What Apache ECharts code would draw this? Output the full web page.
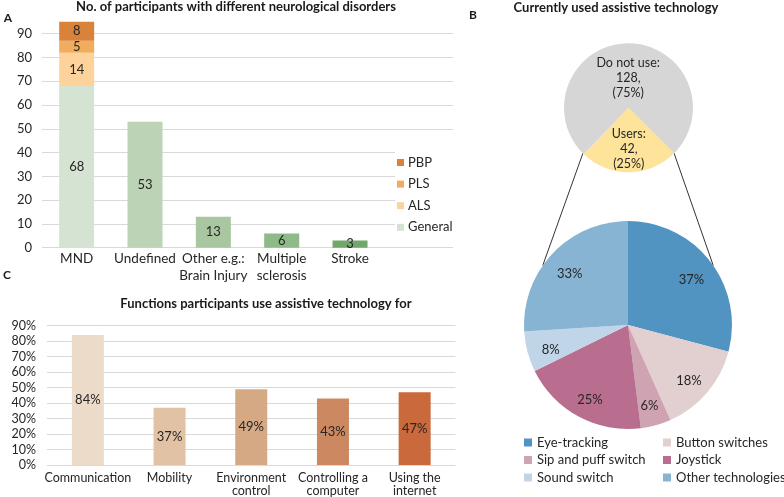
<!DOCTYPE html>
<html><head><meta charset="utf-8">
<script src="https://cdn.jsdelivr.net/npm/echarts@6/dist/echarts.min.js"></script>
<style>html,body{margin:0;padding:0;background:#fff}#c{width:784px;height:497px}</style>
</head><body><div id="c"></div>
<script>
// ---- data ----
const catsA = ['MND', 'Undefined', 'Other e.g.:\nBrain Injury', 'Multiple\nsclerosis', 'Stroke'];
const generalA = [68, 53, 13, 6, 3];
const alsA = [14, null, null, null, null];
const plsA = [5, null, null, null, null];
const pbpA = [8, null, null, null, null];
const legendA = ['PBP', 'PLS', 'ALS', 'General'];

const catsC = ['Communication', 'Mobility', 'Environment\ncontrol', 'Controlling a\ncomputer', 'Using the\ninternet'];
const funcC = [84, 37, 49, 43, 47];

const usageNames = ['Users', 'Do not use'];
const usageVals = [42, 128];
const usagePct = [25, 75];

const techNames = ['Eye-tracking', 'Button switches', 'Sip and puff switch', 'Joystick', 'Sound switch', 'Other technologies'];
const techVals = [37, 18, 6, 25, 8, 33];

// ---- styles ----
const greensA = ['#d5e3d2', '#bcd3b6', '#a8c7a1', '#8dba88', '#70a86b'];
const orangesA = { ALS: '#fdd39b', PLS: '#f0ad5e', PBP: '#d9823a' };
const brownsC = ['#ecdbc9', '#e2c2a5', '#d5a983', '#cc8860', '#c9693c'];
const usageColors = ['#fde49a', '#d6d6d6'];
const techColors = ['#5194c1', '#e2cfd0', '#cfa3b1', '#b96d8f', '#c0d6e8', '#88b4d3'];
const FONT = 'Lato';
const TXT = '#262626';

const topC = [628.5, 107.7], rT = 64.5;
const botC = [628, 325], rB = 104;
function pt(c, r, deg) { const a = deg * Math.PI / 180; return [c[0] + r * Math.sin(a), c[1] - r * Math.cos(a)]; }

const chart = echarts.init(document.getElementById('c'), null, { renderer: 'canvas' });

const labelStyle = { fontFamily: FONT, fontSize: 13, color: TXT };

function seg(name, arr, color) {
  return {
    name, type: 'bar', stack: 'mnd', xAxisIndex: 1, yAxisIndex: 1, barWidth: 35,
    itemStyle: { color }, data: arr,
    label: { show: true, position: 'inside', ...labelStyle, formatter: p => p.value }
  };
}

const L1 = pt(topC, rT, 225), L2 = pt(botC, rB, 305);
const R1 = pt(topC, rT, 135), R2 = pt(botC, rB, 55);

const option = {
  animation: false,
  textStyle: { fontFamily: FONT },
  grid: [
    { left: 42, right: 331, top: 21.8, bottom: 249.3 },
    { left: 42.5, right: 399.8, top: 21.8, bottom: 249.3 },
    { left: 47, right: 328.5, top: 325.7, bottom: 32 }
  ],
  xAxis: [
    { gridIndex: 0, type: 'category', data: [''], show: false },
    { gridIndex: 1, type: 'category', data: catsA,
      axisLine: { show: false }, axisTick: { show: false },
      axisLabel: { fontFamily: FONT, fontSize: 13.5, color: TXT, lineHeight: 17, verticalAlign: 'top', margin: 2, interval: 0 } },
    { gridIndex: 2, type: 'category', data: catsC,
      axisLine: { show: false }, axisTick: { show: false },
      axisLabel: { fontFamily: FONT, fontSize: 12.5, color: TXT, lineHeight: 13, verticalAlign: 'top', margin: 6, interval: 0 } }
  ],
  yAxis: [
    { gridIndex: 0, type: 'value', min: 0, max: 95, interval: 10,
      axisLine: { show: false }, axisTick: { show: false },
      splitLine: { show: true, showMaxLine: false, lineStyle: { color: '#d9d9d9', width: 1 } },
      axisLabel: { fontFamily: FONT, fontSize: 13, color: TXT, margin: 10, showMaxLabel: false } },
    { gridIndex: 1, type: 'value', min: 0, max: 95, interval: 10, show: false, splitLine: { show: false } },
    { gridIndex: 2, type: 'value', min: 0, max: 90, interval: 10,
      axisLine: { show: false }, axisTick: { show: false },
      splitLine: { show: true, lineStyle: { color: '#d9d9d9', width: 1 } },
      axisLabel: { fontFamily: FONT, fontSize: 12.5, color: TXT, margin: 11, formatter: '{value}%' } }
  ],
  legend: [
    { data: legendA, orient: 'vertical', left: 395, top: 149, backgroundColor: '#fff',
      padding: [7, 8, 7, 2], itemWidth: 7, itemHeight: 7, itemGap: 8.6, icon: 'rect',
      textStyle: { fontFamily: FONT, fontSize: 13, color: TXT, padding: [0, 0, 0, -1] } },
    { data: ['Eye-tracking', 'Sip and puff switch', 'Sound switch'], orient: 'vertical', left: 524, top: 436,
      padding: 0, itemWidth: 8, itemHeight: 8, itemGap: 4.5, icon: 'rect',
      textStyle: { fontFamily: FONT, fontSize: 13, color: TXT, lineHeight: 13 } },
    { data: ['Button switches', 'Joystick', 'Other technologies'], orient: 'vertical', left: 663, top: 436,
      padding: 0, itemWidth: 8, itemHeight: 8, itemGap: 4.5, icon: 'rect',
      textStyle: { fontFamily: FONT, fontSize: 13, color: TXT, lineHeight: 13 } }
  ],
  graphic: [
    { type: 'line', shape: { x1: L1[0], y1: L1[1], x2: L2[0], y2: L2[1] }, style: { stroke: '#333', lineWidth: 1 }, z: 0 },
    { type: 'line', shape: { x1: R1[0], y1: R1[1], x2: R2[0], y2: R2[1] }, style: { stroke: '#333', lineWidth: 1 }, z: 0 },
    { type: 'text', x: 236, y: 7, style: { text: 'No. of participants with different neurological disorders', font: 'bold 13px Lato', fill: '#1a1a1a', textAlign: 'center', textVerticalAlign: 'middle' } },
    { type: 'text', x: 616, y: 8, style: { text: 'Currently used assistive technology', font: 'bold 13px Lato', fill: '#1a1a1a', textAlign: 'center', textVerticalAlign: 'middle' } },
    { type: 'text', x: 266, y: 304, style: { text: 'Functions participants use assistive technology for', font: 'bold 13px Lato', fill: '#1a1a1a', textAlign: 'center', textVerticalAlign: 'middle' } },
    { type: 'text', x: 8, y: 18, style: { text: 'A', font: 'bold 12px Lato', fill: '#1a1a1a', textAlign: 'center', textVerticalAlign: 'middle' } },
    { type: 'text', x: 473, y: 15, style: { text: 'B', font: 'bold 12px Lato', fill: '#1a1a1a', textAlign: 'center', textVerticalAlign: 'middle' } },
    { type: 'text', x: 7, y: 275, style: { text: 'C', font: 'bold 12px Lato', fill: '#1a1a1a', textAlign: 'center', textVerticalAlign: 'middle' } }
  ],
  series: [
    { name: 'General', type: 'bar', stack: 'mnd', xAxisIndex: 1, yAxisIndex: 1, barWidth: 35,
      itemStyle: { color: greensA[0] },
      data: generalA.map((v, i) => ({ value: v, itemStyle: { color: greensA[i] } })),
      label: { show: true, position: 'inside', ...labelStyle } },
    seg('ALS', alsA, orangesA.ALS),
    seg('PLS', plsA, orangesA.PLS),
    seg('PBP', pbpA, orangesA.PBP),
    { name: 'Functions', type: 'bar', xAxisIndex: 2, yAxisIndex: 2, barWidth: 32,
      data: funcC.map((v, i) => ({ value: v, itemStyle: { color: brownsC[i] } })),
      label: { show: true, position: 'inside', fontFamily: FONT, fontSize: 13, color: TXT, formatter: '{c}%' } },
    { name: 'Usage', type: 'pie', center: topC, radius: rT, startAngle: -45, clockwise: true,
      avoidLabelOverlap: false, silent: true,
      itemStyle: { borderWidth: 0 },
      data: usageNames.map((n, i) => ({ name: n, value: usageVals[i], itemStyle: { color: usageColors[i] } })),
      label: { show: true, position: 'inside', fontFamily: FONT, fontSize: 12.5, color: TXT, lineHeight: 15, align: 'center',
        formatter: p => p.name + ':\n' + p.value + ',\n(' + usagePct[p.dataIndex] + '%)' },
      labelLayout: { dy: 6 },
      labelLine: { show: false } },
    { name: 'Tech', type: 'pie', center: botC, radius: rB, startAngle: 90, clockwise: true,
      avoidLabelOverlap: false, silent: true,
      itemStyle: { borderWidth: 0 },
      data: techNames.map((n, i) => ({ name: n, value: techVals[i], itemStyle: { color: techColors[i] } })),
      label: { show: false }, labelLine: { show: false } },
    { name: 'TechLabels', type: 'pie', center: botC, radius: [rB * 0.48, rB], startAngle: 90, clockwise: true,
      avoidLabelOverlap: false, silent: true,
      itemStyle: { color: 'rgba(0,0,0,0)', borderWidth: 0 },
      data: techNames.map((n, i) => ({ name: n, value: techVals[i] })),
      label: { show: true, position: 'inside', fontFamily: FONT, fontSize: 13, color: TXT, formatter: '{c}%' },
      labelLayout: { dy: 4 },
      labelLine: { show: false } }
  ]
};
chart.setOption(option);
</script></body></html>
